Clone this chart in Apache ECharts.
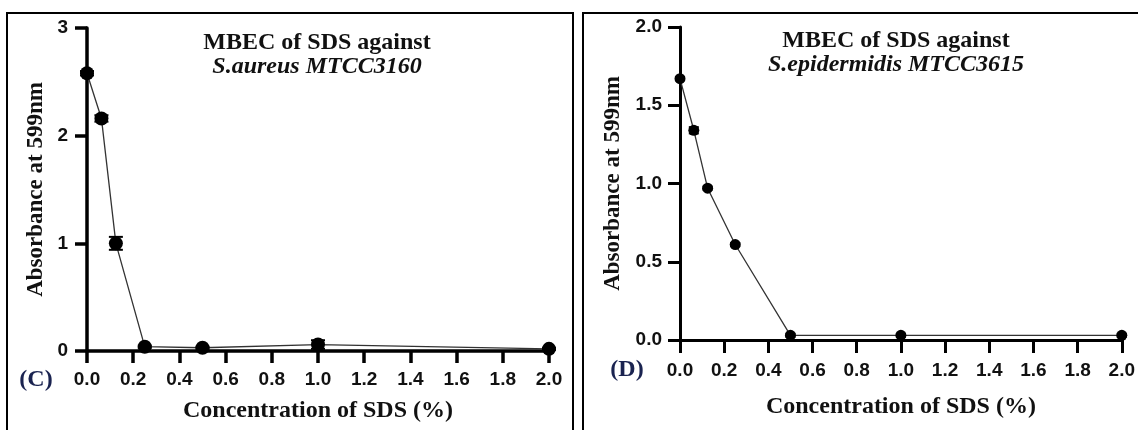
<!DOCTYPE html>
<html>
<head>
    <meta charset="utf-8">
    <title>MBEC of SDS</title>
    <style>
        html, body { margin: 0; padding: 0; background: #fff; }
        #container { width: 1138px; height: 430px; }
    </style>
</head>
<body>
<div id="container"></div>
<script src="https://cdn.jsdelivr.net/npm/echarts@6.0.0/dist/echarts.min.js"></script>
<script type="text/javascript">

    // SDS concentration (%) shared by both panels
    var concentration = [0, 0.0625, 0.125, 0.25, 0.5, 1, 2];

    // panel C - S.aureus MTCC3160
    var absAureus = [2.58, 2.16, 1.0, 0.04, 0.03, 0.06, 0.02];
    var errAureus = [0.02, 0.03, 0.06, 0.01, 0.01, 0.04, 0.01];

    // panel D - S.epidermidis MTCC3615
    var absEpi = [1.67, 1.34, 0.97, 0.61, 0.03, 0.03, 0.03];
    var errEpi = [0.01, 0.02, 0.01, 0.01, 0.01, 0.01, 0.01];

    var serif = '"Liberation Serif", "Times New Roman", serif';
    var sans = '"Liberation Sans", Arial, sans-serif';

    function pairs(xs, ys, es) {
        var out = [];
        for (var i = 0; i < xs.length; i++) {
            out.push(es ? [xs[i], ys[i], es[i]] : [xs[i], ys[i]]);
        }
        return out;
    }

    function errorBar(capHalf) {
        return function (params, api) {
            var x = api.value(0), y = api.value(1), e = api.value(2);
            var hi = api.coord([x, y + e]);
            var lo = api.coord([x, y - e]);
            var style = { stroke: '#000', lineWidth: 2 };
            return {
                type: 'group',
                children: [
                    { type: 'line', shape: { x1: hi[0], y1: hi[1], x2: lo[0], y2: lo[1] }, style: style },
                    { type: 'line', shape: { x1: hi[0] - capHalf, y1: hi[1], x2: hi[0] + capHalf, y2: hi[1] }, style: style },
                    { type: 'line', shape: { x1: lo[0] - capHalf, y1: lo[1], x2: lo[0] + capHalf, y2: lo[1] }, style: style }
                ]
            };
        };
    }

    function xAxisFor(idx, lineW, tickLen, margin, nameGap) {
        return {
            type: 'value',
            gridIndex: idx,
            min: 0,
            max: 2,
            interval: 0.2,
            name: 'Concentration of SDS (%)',
            nameLocation: 'middle',
            nameGap: nameGap,
            nameTextStyle: { fontFamily: serif, fontWeight: 'bold', fontSize: 24, color: '#111' },
            axisLine: { show: true, onZero: false, lineStyle: { color: '#000', width: lineW } },
            axisTick: { show: true, length: tickLen, lineStyle: { color: '#000', width: lineW } },
            axisLabel: {
                margin: margin,
                fontFamily: sans, fontWeight: 'bold', fontSize: 19, color: '#111',
                showMinLabel: true, showMaxLabel: true,
                formatter: function (v) { return v.toFixed(1); }
            },
            splitLine: { show: false }
        };
    }

    function titleFor(sub, cx, top) {
        return {
            text: 'MBEC of SDS against',
            subtext: sub,
            left: cx,
            top: top,
            textAlign: 'center',
            padding: 0,
            itemGap: 0,
            textStyle: { fontFamily: serif, fontWeight: 'bold', fontSize: 24, color: '#111' },
            subtextStyle: { fontFamily: serif, fontWeight: 'bold', fontStyle: 'italic', fontSize: 24, color: '#111' }
        };
    }

    var option = {
        backgroundColor: '#fff',
        animation: false,
        title: [
            titleFor('S.aureus MTCC3160', 317, 31),
            titleFor('S.epidermidis MTCC3615', 896, 29)
        ],
        grid: [
            { left: 87, top: 28, width: 462, height: 323 },
            { left: 680, top: 27, width: 449, height: 313 }
        ],
        xAxis: [
            xAxisFor(0, 3.5, 12, 19, 48),
            xAxisFor(1, 3, 13, 21, 55)
        ],
        yAxis: [{
            type: 'value',
            gridIndex: 0,
            min: 0,
            max: 3,
            interval: 1,
            name: 'Absorbance at 599nm',
            nameLocation: 'middle',
            nameGap: 39,
            nameTextStyle: { fontFamily: serif, fontWeight: 'bold', fontSize: 23, color: '#111' },
            axisLine: { show: true, lineStyle: { color: '#000', width: 3.5 } },
            axisTick: { show: true, length: 12, lineStyle: { color: '#000', width: 3.5 } },
            axisLabel: { margin: 19, fontFamily: sans, fontWeight: 'bold', fontSize: 19, color: '#111' },
            splitLine: { show: false }
        }, {
            type: 'value',
            gridIndex: 1,
            min: 0,
            max: 2,
            interval: 0.5,
            name: 'Absorbance at 599nm',
            nameLocation: 'middle',
            nameGap: 55,
            nameTextStyle: { fontFamily: serif, fontWeight: 'bold', fontSize: 23, color: '#111' },
            axisLine: { show: true, lineStyle: { color: '#000', width: 3 } },
            axisTick: { show: true, length: 12, lineStyle: { color: '#000', width: 3 } },
            axisLabel: {
                margin: 18, fontFamily: sans, fontWeight: 'bold', fontSize: 19, color: '#111',
                formatter: function (v) { return v.toFixed(1); }
            },
            splitLine: { show: false }
        }],
        series: [{
            name: 'S.aureus',
            type: 'line',
            xAxisIndex: 0,
            yAxisIndex: 0,
            data: pairs(concentration, absAureus),
            symbol: 'circle',
            symbolSize: 14,
            clip: false,
            itemStyle: { color: '#000' },
            lineStyle: { color: '#333', width: 1.3 },
            z: 3
        }, {
            type: 'custom',
            xAxisIndex: 0,
            yAxisIndex: 0,
            data: pairs(concentration, absAureus, errAureus),
            renderItem: errorBar(7),
            clip: false,
            z: 4
        }, {
            name: 'S.epidermidis',
            type: 'line',
            xAxisIndex: 1,
            yAxisIndex: 1,
            data: pairs(concentration, absEpi),
            symbol: 'circle',
            symbolSize: 11,
            clip: false,
            itemStyle: { color: '#000' },
            lineStyle: { color: '#333', width: 1.3 },
            z: 3
        }, {
            type: 'custom',
            xAxisIndex: 1,
            yAxisIndex: 1,
            data: pairs(concentration, absEpi, errEpi),
            renderItem: errorBar(5),
            clip: false,
            z: 4
        }],
        graphic: [
            { type: 'rect', shape: { x: 7, y: 13, width: 566, height: 440 }, style: { fill: null, stroke: '#000', lineWidth: 2 }, silent: true },
            { type: 'rect', shape: { x: 583, y: 13, width: 600, height: 440 }, style: { fill: null, stroke: '#000', lineWidth: 2 }, silent: true },
            { type: 'text', x: 36, y: 380, style: { text: '(C)', fontFamily: serif, fontWeight: 'bold', fontSize: 24, fill: '#1a2350', align: 'center', verticalAlign: 'middle' } },
            { type: 'text', x: 627, y: 370, style: { text: '(D)', fontFamily: serif, fontWeight: 'bold', fontSize: 24, fill: '#1a2350', align: 'center', verticalAlign: 'middle' } }
        ]
    };

    var myChart = echarts.init(document.getElementById('container'));
    myChart.setOption(option);
</script>
</body>
</html>
